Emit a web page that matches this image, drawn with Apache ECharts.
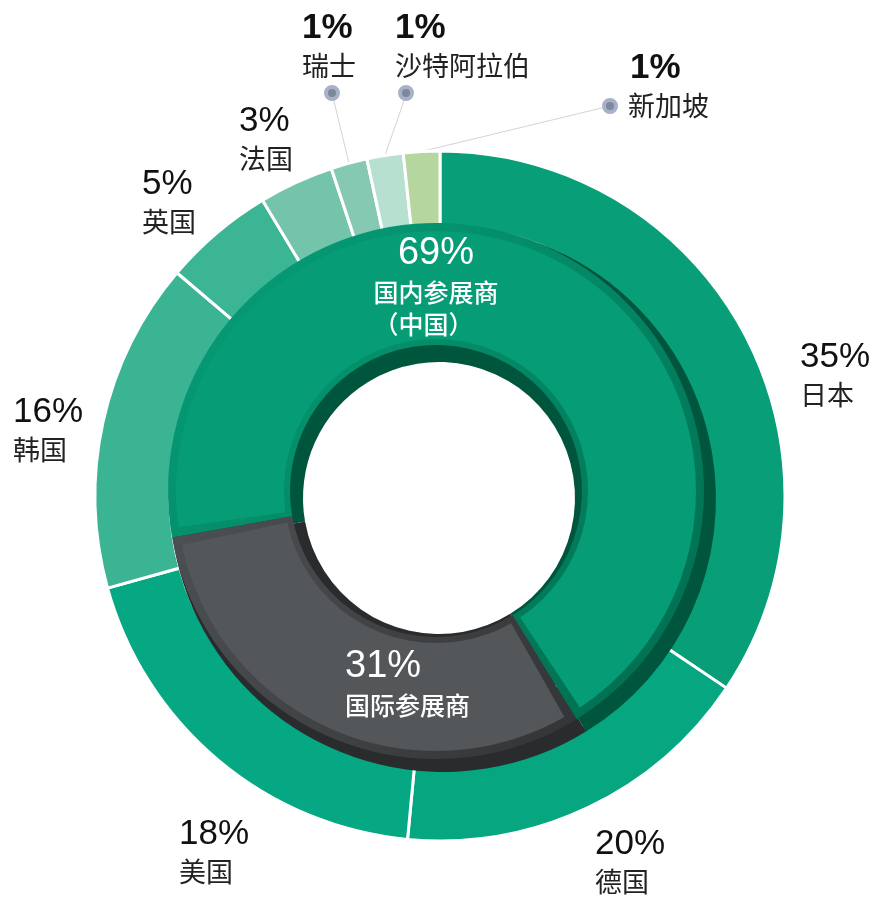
<!DOCTYPE html>
<html>
<head>
<meta charset="utf-8">
<script src="https://cdn.jsdelivr.net/npm/echarts@6/dist/echarts.min.js"></script>
<style>
  html, body { margin: 0; padding: 0; background: #fff; }
  #chart { width: 877px; height: 900px; }
</style>
</head>
<body>
<div id="chart"></div>
<script>
// outer ring - exhibitors by country (slice sizes as drawn, labels as printed)
const countries = ["日本", "德国", "美国", "韩国", "英国", "法国", "瑞士", "沙特阿拉伯", "新加坡"];
const countryShares = [34.4, 17.1, 19.2, 15.5, 5.2, 3.5, 1.7, 1.7, 1.7];
const countryLabels = ["35%", "20%", "18%", "16%", "5%", "3%", "1%", "1%", "1%"];
const countryColors = ["#089e78", "#06a680", "#06a883", "#3ab493", "#3cb594", "#74c4ab", "#86c9b2", "#b7e0d0", "#b6d6a0"];

// inner ring - domestic vs international
const groups = ["国内参展商", "国际参展商"];
const groupShares = [69, 31];
const groupLabels = ["69%", "31%"];

// label placement (top-left of each text block)
const outerLabelAt = [[800, 335], [595, 822], [179, 812], [13, 390], [142, 162], [239, 99], [302, 6], [395, 6], [606, 46]];
const calloutDots = { 6: [332, 93], 7: [406, 95], 8: [610, 106] };
const innerLabelAt = [[436, 232], [345, 645]];

const NUM_FONT = "'Liberation Sans', Arial, Helvetica, sans-serif";
const CJK_FONT = "'Noto Sans CJK SC', 'Noto Sans', sans-serif";

const chart = echarts.init(document.getElementById("chart"));

const outerRich = {
  p: { fontFamily: NUM_FONT, fontSize: 35, color: "#111", lineHeight: 44 },
  pb: { fontFamily: NUM_FONT, fontSize: 35, fontWeight: "bold", color: "#111", lineHeight: 44 },
  n: { fontFamily: CJK_FONT, fontSize: 27, color: "#222", lineHeight: 32 },
  dot: { width: 8, height: 8, borderRadius: 8, backgroundColor: "#7e879c", borderColor: "#a7b1c7", borderWidth: 4, lineHeight: 22 },
  s6: { width: 26, lineHeight: 22 },
  s7: { width: 7, lineHeight: 22 },
  s8: { width: 24 },
  gap: { width: 14 },
};

function outerFormatter(p) {
  const i = p.dataIndex;
  const pct = countryLabels[i];
  if (i === 8) return `{s8|}{pb|${pct}}\n{dot|}{gap|}{n|${p.name}}`;
  if (i === 6 || i === 7) return `{pb|${pct}}\n{n|${p.name}}\n{s${i}|}{dot|}`;
  return `{p|${pct}}\n{n|${p.name}}`;
}

const innerRich = {
  p: { fontFamily: NUM_FONT, fontSize: 38, color: "#fff", lineHeight: 44 },
  n: { fontFamily: CJK_FONT, fontSize: 25, fontWeight: 500, color: "#fff", lineHeight: 32 },
  c: { fontFamily: CJK_FONT, fontSize: 25, fontWeight: 500, color: "#fff", lineHeight: 32, padding: [0, 25, 0, 0] },
};

function innerFormatter(p) {
  if (p.dataIndex === 0) return `{p|${groupLabels[0]}}\n{n|${p.name}}\n{c|（中国）}`;
  return `{p|${groupLabels[1]}}\n{n|${p.name}}`;
}

const grad = (a, b) => new echarts.graphic.LinearGradient(0, 0, 1, 1, [
  { offset: 0, color: a },
  { offset: 1, color: b },
]);

const innerBase = {
  type: "pie",
  startAngle: 190,
  clockwise: true,
  silent: true,
  label: { show: false },
  labelLine: { show: false },
};

const wallColors = ["#00553d", "#2a2b2d"];

const option = {
  animation: false,
  backgroundColor: "#fff",
  series: [
    {
      type: "pie",
      center: [440, 496],
      radius: [270, 345],
      startAngle: 90,
      clockwise: true,
      silent: true,
      avoidLabelOverlap: false,
      itemStyle: { borderColor: "#fff", borderWidth: 3 },
      label: { show: true, position: "outside", overflow: "none", formatter: outerFormatter, rich: outerRich },
      labelLine: { show: false, lineStyle: { color: "#d4d4d4", width: 1 } },
      labelLayout: (p) => {
        const pos = outerLabelAt[p.dataIndex];
        const res = { x: pos[0], y: pos[1], align: "left", verticalAlign: "top" };
        const dot = calloutDots[p.dataIndex];
        if (dot && p.labelLinePoints) {
          const s = p.labelLinePoints[0];
          res.labelLinePoints = [s, s, dot];
        }
        return res;
      },
      data: countries.map((name, i) => ({
        name,
        value: countryShares[i],
        itemStyle: { color: countryColors[i] },
        labelLine: { show: calloutDots[i] !== undefined },
      })),
    },
    // side walls of the raised inner ring: outer wall and hole wall
    Object.assign({}, innerBase, {
      center: [443, 499],
      radius: [220, 273],
      data: groups.map((name, i) => ({ name, value: groupShares[i], itemStyle: { color: wallColors[i] } })),
    }),
    Object.assign({}, innerBase, {
      center: [439, 498],
      radius: [136, 220],
      data: groups.map((name, i) => ({ name, value: groupShares[i], itemStyle: { color: wallColors[i] } })),
    }),
    // bevel
    Object.assign({}, innerBase, {
      center: [436, 491],
      radius: [146, 268],
      data: groups.map((name, i) => ({
        name,
        value: groupShares[i],
        itemStyle: { color: i === 0 ? grad("#06a17a", "#006b4e") : grad("#4d5053", "#333436") },
      })),
    }),
    // top face with labels
    Object.assign({}, innerBase, {
      center: [436, 491],
      radius: [152, 260],
      padAngle: 4,
      label: { show: true, position: "inside", formatter: innerFormatter, rich: innerRich },
      labelLayout: (p) => {
        const pos = innerLabelAt[p.dataIndex];
        return { x: pos[0], y: pos[1], align: p.dataIndex === 0 ? "center" : "left", verticalAlign: "top" };
      },
      data: groups.map((name, i) => ({
        name,
        value: groupShares[i],
        itemStyle: { color: i === 0 ? "#059c76" : "#53575a" },
      })),
    }),
  ],
};

chart.setOption(option);
</script>
</body>
</html>
